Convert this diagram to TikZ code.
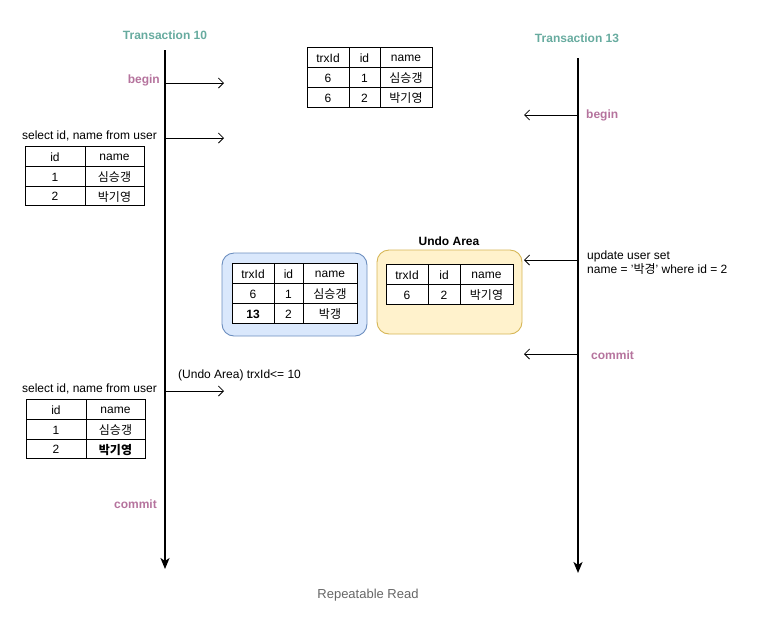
\documentclass[tikz,border=0pt]{standalone}
\usepackage{fontspec}
\setmainfont{Liberation Sans}
\newfontfamily\kr{Noto Sans CJK KR}
\usetikzlibrary{arrows.meta}
\definecolor{teal10}{HTML}{67AB9F}
\definecolor{purp}{HTML}{B5739D}
\definecolor{bluef}{HTML}{DAE8FC}
\definecolor{blued}{HTML}{6C8EBF}
\definecolor{yelf}{HTML}{FFF2CC}
\definecolor{yeld}{HTML}{D6B656}
\definecolor{grayt}{HTML}{666666}
\tikzset{
  every node/.style={font=\fontsize{12}{14}\selectfont, inner sep=0pt},
  ttl/.style={font=\fontsize{12}{14}\selectfont\bfseries, text=teal10},
  evt/.style={font=\fontsize{12}{14}\selectfont\bfseries, text=purp},
  life/.style={line width=2.6pt, -{Stealth[length=11pt,width=9pt,inset=3pt]}},
  msg/.style={line width=0.8pt, -{Straight Barb[length=5pt,width=10pt]}},
  cellb/.style={draw=black, fill=white, line width=0.9pt},
  box/.style={rounded corners=12pt, line width=0.9pt},
}
\newcommand\mycell[5]{\draw[cellb] (#1,#2) rectangle (#3,#4); \node at ({(#1+#3)/2},{(#2+#4)/2+1}) {#5};}
\begin{document}
\begin{tikzpicture}[x=1pt,y=-1pt]
\useasboundingbox (0,0) rectangle (770,625);
% lifelines
\node[ttl] (t10) at (165,35) {Transaction 10};
\node[ttl] (t13) at (577,38) {Transaction 13};
\coordinate (l10top) at (165,50); \coordinate (l10bot) at (165,569);
\coordinate (l13top) at (578,58); \coordinate (l13bot) at (578,573);
\draw[life] (l10top) -- (l10bot);
\draw[life] (l13top) -- (l13bot);
% T10 begin
\node[evt, anchor=east] (b10) at (160,80) {begin};
\coordinate (a1s) at (166,83); \coordinate (a1e) at (224,83);
\draw[msg] (a1s) -- (a1e);
% top table
\mycell{307}{47}{349}{67}{trxId}
\mycell{349}{47}{380}{67}{id}
\mycell{380}{47}{432}{67}{name}
\mycell{307}{67}{349}{87}{6}
\mycell{349}{67}{380}{87}{1}
\mycell{380}{67}{432}{87}{\kr 심승갱}
\mycell{307}{87}{349}{107}{6}
\mycell{349}{87}{380}{107}{2}
\mycell{380}{87}{432}{107}{\kr 박기영}
% select 1
\node[anchor=east] (s1) at (157,136) {select id, name from user};
\coordinate (a2s) at (166,138); \coordinate (a2e) at (224,138);
\draw[msg] (a2s) -- (a2e);
\mycell{25}{146}{85}{166}{id}
\mycell{85}{146}{144}{166}{name}
\mycell{25}{166}{85}{186}{1}
\mycell{85}{166}{144}{186}{\kr 심승갱}
\mycell{25}{186}{85}{205}{2}
\mycell{85}{186}{144}{205}{\kr 박기영}
% T13 begin
\node[evt, anchor=west] (b13) at (586,115) {begin};
\coordinate (a3s) at (577,115); \coordinate (a3e) at (524,115);
\draw[msg] (a3s) -- (a3e);
% boxes
\node[font=\fontsize{12}{14}\selectfont\bfseries] (undo) at (449,241) {Undo Area};
\draw[box, fill=bluef, draw=blued] (222,253) rectangle (367,336);
\draw[box, fill=yelf, draw=yeld] (377,250) rectangle (522,334);
\mycell{232}{263}{274}{283}{trxId}
\mycell{274}{263}{303}{283}{id}
\mycell{303}{263}{357}{283}{name}
\mycell{232}{283}{274}{303}{6}
\mycell{274}{283}{303}{303}{1}
\mycell{303}{283}{357}{303}{\kr 심승갱}
\mycell{232}{303}{274}{323}{\bfseries 13}
\mycell{274}{303}{303}{323}{2}
\mycell{303}{303}{357}{323}{\kr 박갱}
\mycell{386}{264}{428}{284}{trxId}
\mycell{428}{264}{460}{284}{id}
\mycell{460}{264}{513}{284}{name}
\mycell{386}{284}{428}{304}{6}
\mycell{428}{284}{460}{304}{2}
\mycell{460}{284}{513}{304}{\kr 박기영}
% update
\node[anchor=west, align=left] (upd) at (587,263) {update user set\\name = '{\kr 박경}' where id = 2};
\coordinate (a4s) at (577,260); \coordinate (a4e) at (524,260);
\draw[msg] (a4s) -- (a4e);
% T13 commit
\node[evt, anchor=west] (c13) at (591,355) {commit};
\coordinate (a5s) at (577,354); \coordinate (a5e) at (524,354);
\draw[msg] (a5s) -- (a5e);
% select 2
\node[anchor=west] (ua) at (178,375) {(Undo Area) trxId<= 10};
\node[anchor=east] (s2) at (157,389) {select id, name from user};
\coordinate (a6s) at (166,391); \coordinate (a6e) at (224,391);
\draw[msg] (a6s) -- (a6e);
\mycell{26}{399}{86}{419}{id}
\mycell{86}{399}{145}{419}{name}
\mycell{26}{419}{86}{439}{1}
\mycell{86}{419}{145}{439}{\kr 심승갱}
\mycell{26}{439}{86}{458}{2}
\mycell{86}{439}{145}{458}{\kr\bfseries 박기영}
% T10 commit
\node[evt, anchor=east] (c10) at (157,504) {commit};
% caption
\node[text=grayt, font=\fontsize{13}{15}\selectfont] (cap) at (368,595) {Repeatable Read};
\end{tikzpicture}
\end{document}
